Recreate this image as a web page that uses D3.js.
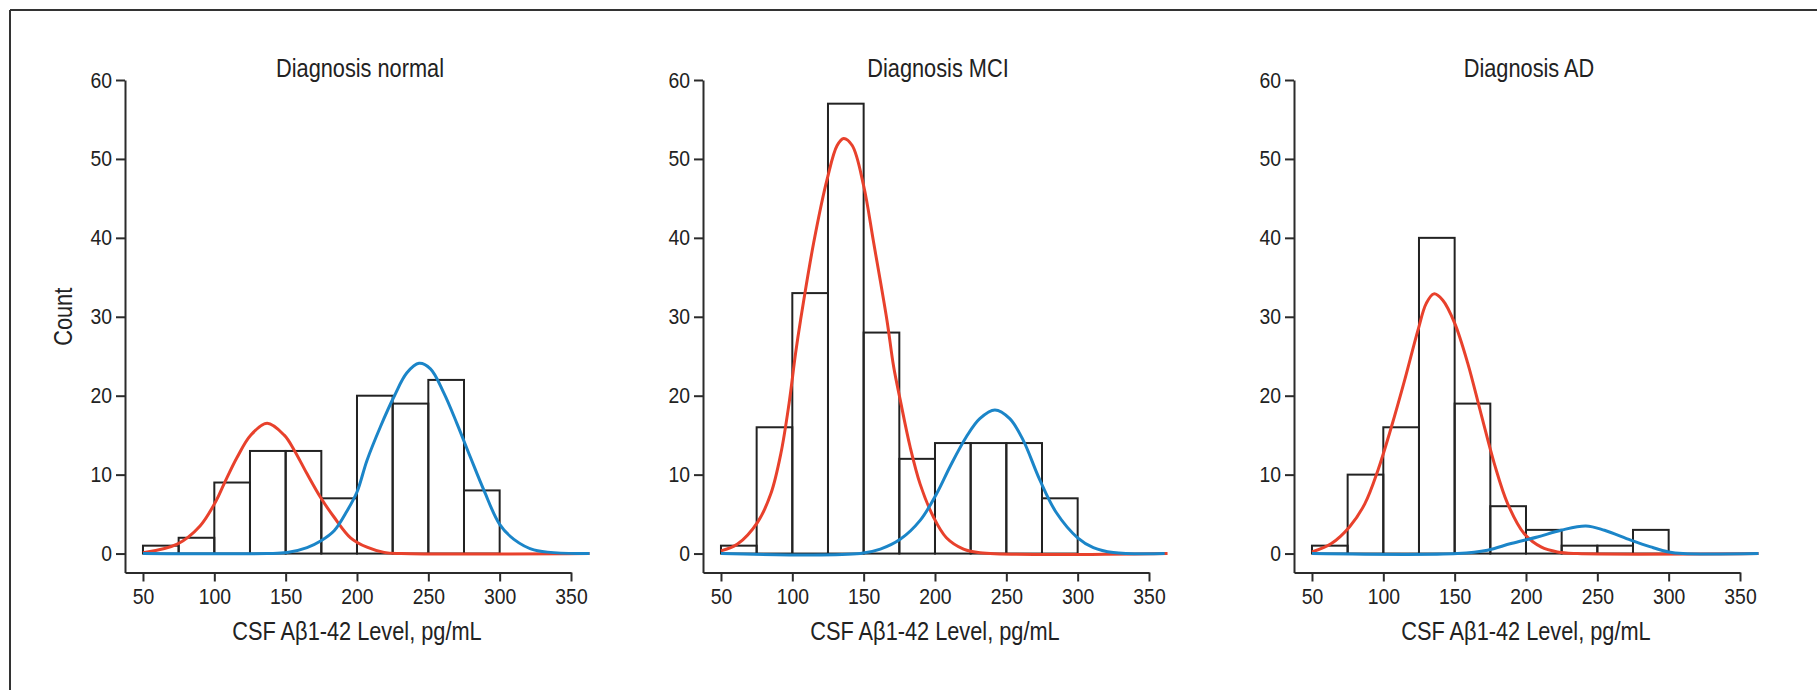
<!DOCTYPE html>
<html lang="en">
<head>
<meta charset="UTF-8">
<title>CSF Abeta1-42 Level histograms</title>
<style>
body { margin: 0; background: #fff; }
text {
    font-family: 'Liberation Sans', Arial, sans-serif;
    fill: #222;
}
.axis path, .axis line { stroke: #2b2b2b; stroke-width: 2; }
.axis text { font-size: 22px; }
.bar { fill: none; stroke: #222; stroke-width: 2; }
.fit { fill: none; stroke-width: 3; }
.frame { stroke: #333; stroke-width: 2; }
.label { font-size: 25px; }
</style>
</head>
<body>
<svg width="1817" height="690"></svg>
<script src="https://d3js.org/d3.v7.min.js"></script>
<script>

var translate = function(left, top) {
    return "translate(" + left + "," + top + ")";
};

// ---- data ----
var titles = ["Diagnosis normal", "Diagnosis MCI", "Diagnosis AD"];
var binStarts = [50, 75, 100, 125, 150, 175, 200, 225, 250, 275];
var binWidth = 25;
var xTicks = [50, 100, 150, 200, 250, 300, 350];
var yTicks = [0, 10, 20, 30, 40, 50, 60];

var countsNormal = [1, 2, 9, 13, 13, 7, 20, 19, 22, 8];
var countsMCI = [1, 16, 33, 57, 28, 12, 14, 14, 14, 7];
var countsAD = [1, 10, 16, 40, 19, 6, 3, 1, 1, 3];

// fitted curves, [level, count]
var redNormal = [[50,0.1],[74,1.2],[90,3.5],[101,6.6],[107,8.9],[116,12.2],[125.5,15.0],[137,16.5],
    [149,15.0],[156,13.1],[165,10.1],[174.5,7.1],[184,4.6],[195.5,2.0],[207,0.8],[219,0.15],[231,0],[363,0]];
var blueNormal = [[50,0],[137,0],[151,0.13],[165,0.76],[174.5,1.6],[184,2.9],[193,5.4],[200,7.8],[207,11.8],
    [216.5,16.1],[226,19.9],[235,22.9],[243.5,24.1],[251.5,23.4],[261,20.3],[270,16.5],[279.5,12.2],
    [289,8.0],[300,3.7],[310,1.8],[324,0.47],[363,0]];

var redMCI = [[50,0.34],[61.6,1.2],[75.6,3.95],[85,7.6],[92,12.7],[97.7,19.0],[102.3,25.4],[105.8,29.6],
    [115,39.4],[124.5,47.5],[131.4,51.7],[136,52.6],[142,51.7],[150,46.6],[157,39.4],[166.3,29.6],
    [171,23.7],[175.6,19.5],[182.6,13.5],[189.6,8.8],[199,4.6],[208,2.0],[220,0.56],[231.5,0.1],[363,0]];
var blueMCI = [[50,0],[147.7,0],[161.7,0.56],[175.6,1.8],[189.6,4.2],[201.2,7.6],[210.5,11.0],[222,14.8],
    [231.4,17.1],[242,18.2],[252.4,17.1],[261.7,14.4],[273.3,9.4],[285,5.2],[300,2.0],[311,0.76],
    [325,0.13],[361,0]];

var redAD = [[50,0.2],[63.6,1.27],[76.4,3.4],[87,6.3],[96.3,10.6],[105.6,16.0],[115,22.0],[124.3,28.3],
    [130.1,31.7],[135.4,32.9],[141.7,32.1],[150,29.2],[159.2,24.1],[168.5,17.7],[177.8,11.4],
    [187.2,6.3],[198.8,2.5],[210.5,0.84],[222,0.2],[236,0],[363,0]];
var blueAD = [[50,0],[152,0],[173,0.42],[189.5,1.27],[208,2.1],[224.5,2.95],[242,3.5],[255,2.95],
    [273.4,1.7],[287.4,0.84],[300,0.2],[310,0],[363,0]];

var panels = [
    {title: titles[0], counts: countsNormal, red: redNormal, blue: blueNormal},
    {title: titles[1], counts: countsMCI, red: redMCI, blue: blueMCI},
    {title: titles[2], counts: countsAD, red: redAD, blue: blueAD}
];

// ---- layout ----
var svg = d3.select("svg");
var panelLeft = [125, 703, 1294];
var redColor = "#e8412c", blueColor = "#1b85c8";
var squeeze = " scale(0.87,1)";   // condensed lettering
var tickSqueeze = 0.88;

svg.append("line").attr("class", "frame")
    .attr("x1", 10).attr("y1", 10).attr("x2", 1817).attr("y2", 10);
svg.append("line").attr("class", "frame")
    .attr("x1", 10).attr("y1", 10).attr("x2", 10).attr("y2", 690);

var x = d3.scaleLinear().domain([37.4, 350]).range([0, 446]);
var y = d3.scaleLinear().domain([-2.4, 60]).range([572.5, 80]);

var fitLine = d3.line()
    .x(function(d) { return x(d[0]); })
    .y(function(d) { return y(d[1]); })
    .curve(d3.curveCatmullRom.alpha(0.5));

panels.forEach(function(p, i) {
    var g = svg.append("g").attr("transform", translate(panelLeft[i], 0));

    var xAxis = g.append("g").attr("class", "axis")
        .attr("transform", translate(0, y(-2.4)))
        .call(d3.axisBottom(x).tickValues(xTicks).tickSize(9).tickSizeOuter(0).tickPadding(7));
    xAxis.selectAll("text").attr("transform", "scale(" + tickSqueeze + ",1)");

    var yAxis = g.append("g").attr("class", "axis")
        .call(d3.axisLeft(y).tickValues(yTicks).tickSize(9).tickSizeOuter(0).tickPadding(4));
    yAxis.selectAll("text")
        .attr("x", -13 / tickSqueeze)
        .attr("transform", "scale(" + tickSqueeze + ",1)");

    g.selectAll(".bar")
        .data(p.counts)
        .enter()
        .append("rect")
        .attr("class", "bar")
        .attr("x", function(d, j) { return x(binStarts[j]); })
        .attr("width", function(d, j) { return x(binStarts[j] + binWidth) - x(binStarts[j]); })
        .attr("y", function(d) { return y(d); })
        .attr("height", function(d) { return y(0) - y(d); });

    g.append("path").attr("class", "fit")
        .attr("stroke", redColor)
        .attr("d", fitLine(p.red));
    g.append("path").attr("class", "fit")
        .attr("stroke", blueColor)
        .attr("d", fitLine(p.blue));

    g.append("text")
        .attr("class", "label")
        .attr("transform", translate(x(200) + 3, 77) + squeeze)
        .attr("text-anchor", "middle")
        .text(p.title);

    g.append("text")
        .attr("class", "label")
        .attr("transform", translate(x(200), 640) + squeeze)
        .attr("text-anchor", "middle")
        .text("CSF A\u03b21-42 Level, pg/mL");

    if (i == 0) {
        g.append("text")
            .attr("class", "label")
            .attr("transform", translate(72 - panelLeft[0], y(30)) + " rotate(-90)" + squeeze)
            .attr("text-anchor", "middle")
            .text("Count");
    }
});

</script>
</body>
</html>
